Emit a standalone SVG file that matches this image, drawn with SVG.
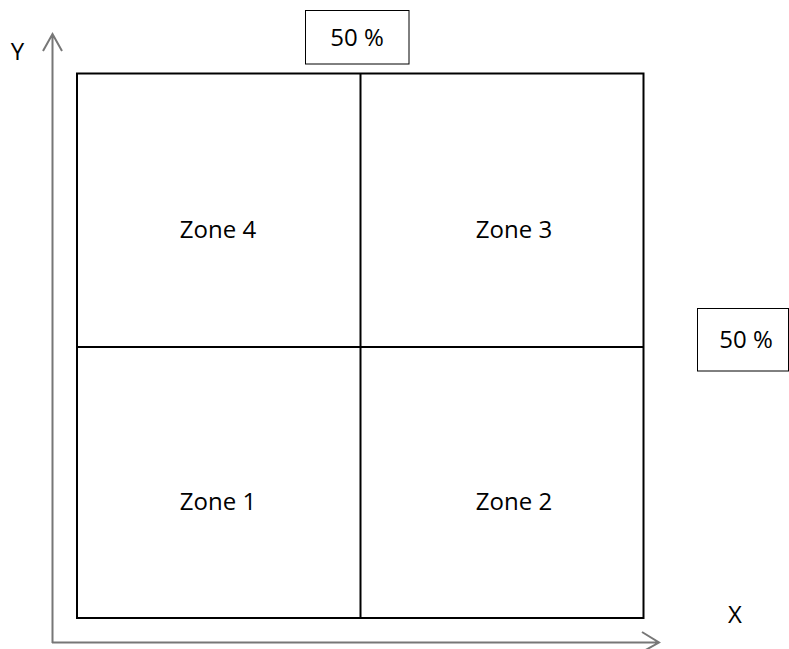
<svg xmlns="http://www.w3.org/2000/svg" width="789" height="649" viewBox="0 0 789 649">
<style>
.t{font-family:"Open Sans","Liberation Sans",sans-serif;font-size:24px;fill:#000;text-anchor:middle}
.box{fill:#fff;stroke:#000;stroke-width:1}
.grid{fill:none;stroke:#000;stroke-width:2}
.axis{fill:none;stroke:#777;stroke-width:2}
</style>
<rect width="789" height="649" fill="#fff"/>
<g id="connectors">
<path class="axis" d="M52.5,643 V35 M43,51 L52.5,34 L62,51"/>
<path class="axis" d="M52,642.5 H659 M642,632 L659,642.5 L642,652"/>
</g>
<g id="grid">
<rect class="grid" x="77" y="73.5" width="566.5" height="544.5"/>
<line class="grid" x1="360.5" y1="73.5" x2="360.5" y2="618"/>
<line class="grid" x1="77" y1="347" x2="643.5" y2="347"/>
</g>
<g id="zone4"><text class="t" x="218" y="238">Zone 4</text></g>
<g id="zone3"><text class="t" x="514" y="238">Zone 3</text></g>
<g id="zone1"><text class="t" x="218" y="510">Zone 1</text></g>
<g id="zone2"><text class="t" x="514" y="510">Zone 2</text></g>
<g id="top50"><rect class="box" x="305.5" y="10.5" width="103.5" height="53.5"/><text class="t" x="357" y="46">50 %</text></g>
<g id="right50"><rect class="box" x="697.5" y="308.5" width="91" height="62.5"/><text class="t" x="746" y="348">50 %</text></g>
<g id="ylabel"><text class="t" x="17.5" y="60">Y</text></g>
<g id="xlabel"><text class="t" x="735" y="623">X</text></g>
</svg>
